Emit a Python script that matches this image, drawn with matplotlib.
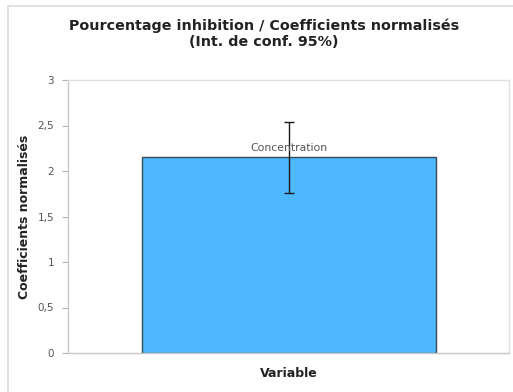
import matplotlib.pyplot as plt
from matplotlib.patches import Rectangle

# données
categories = ['Concentration']
valeurs = [2.15]
erreurs = [0.39]
yticks = [0, 0.5, 1, 1.5, 2, 2.5, 3]
ytick_labels = ['0', '0,5', '1', '1,5', '2', '2,5', '3']

fig = plt.figure(figsize=(5.13, 3.92), dpi=100)
fig.patch.set_facecolor('white')

# cadre du graphique
fig.patches.append(Rectangle((8 / 513, -0.05), 1.0, 0.05 + (392 - 6) / 392,
                             transform=fig.transFigure, fill=False,
                             edgecolor='#dcdcdc', linewidth=1.2))

ax = fig.add_axes([68 / 513, 39 / 392, 441 / 513, 273 / 392])

x = list(range(len(categories)))
ax.bar(x, valeurs, width=1.0, color='#4db8ff', edgecolor='#3a4a55', linewidth=1.0, zorder=2)
ax.errorbar(x, valeurs, yerr=erreurs, fmt='none', ecolor='#1a1a1a',
            elinewidth=1.0, capsize=3.5, capthick=1.0, zorder=3)
for xi, nom, v in zip(x, categories, valeurs):
    ax.text(xi, v + 0.05, nom, ha='center', va='bottom', fontsize=7.8, color='#555555', zorder=4)

ax.set_xlim(-0.75, 0.75)
ax.set_ylim(0, 3)
ax.set_xticks([])
ax.set_yticks(yticks)
ax.set_yticklabels(ytick_labels)
ax.tick_params(axis='y', direction='out', length=4, color='#b0b0b0',
               labelsize=7.5, labelcolor='#555555', pad=6)
for s in ax.spines.values():
    s.set_color('#c8c8c8')
    s.set_linewidth(1.0)
ax.spines['right'].set_color('#e0e0e0')
ax.spines['top'].set_color('#e0e0e0')

ax.set_ylabel('Coefficients normalisés', fontsize=9, fontweight='bold', color='#222222', labelpad=5)
ax.set_xlabel('Variable', fontsize=9, fontweight='bold', color='#222222', labelpad=10)

fig.text(264 / 513, 1 - 26 / 392, 'Pourcentage inhibition / Coefficients normalisés',
         ha='center', va='center', fontsize=10.3, fontweight='bold', color='#222222')
fig.text(264 / 513, 1 - 42 / 392, '(Int. de conf. 95%)',
         ha='center', va='center', fontsize=10.3, fontweight='bold', color='#222222')

fig.savefig('out.png', dpi=100)
